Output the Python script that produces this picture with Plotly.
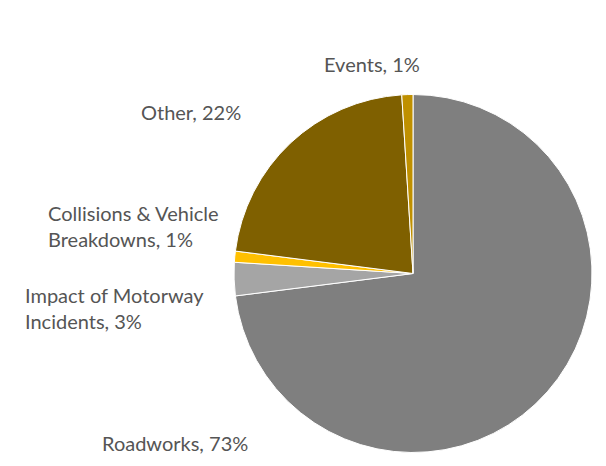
import plotly.graph_objects as go

W, H = 606, 466
OFF = 8  # page body margin offset

categories = ["Roadworks", "Impact of Motorway Incidents", "Collisions & Vehicle Breakdowns", "Other", "Events"]
values = [73, 3, 1, 22, 1]
colors = ["#7F7F7F", "#A5A5A5", "#FFC000", "#7F6000", "#BF9000"]
label_texts = ["Roadworks, 73%", "Impact of Motorway<br>Incidents, 3%", "Collisions & Vehicle<br>Breakdowns, 1%", "Other, 22%", "Events, 1%"]
# label anchor positions in page pixels (left edge, vertical middle)
label_px = [(100, 443), (23, 308), (46, 226), (139, 112), (322, 64)]

cx, cy, r = 413 - OFF, 273.5 - OFF, 179

fig = go.Figure(go.Pie(
    labels=categories,
    values=values,
    sort=False,
    direction="clockwise",
    rotation=0,
    marker=dict(colors=colors, line=dict(color="white", width=1)),
    textinfo="none",
    hoverinfo="label+percent",
    domain=dict(x=[(cx - r) / W, (cx + r) / W], y=[1 - (cy + r) / H, 1 - (cy - r) / H]),
    showlegend=False,
))

for txt, (px, py) in zip(label_texts, label_px):
    fig.add_annotation(
        x=(px - OFF) / W, y=1 - (py - OFF) / H, xref="paper", yref="paper",
        text=txt, showarrow=False, xanchor="left", yanchor="middle", align="left",
        font=dict(family="Lato", size=20, color="#555555"),
    )

fig.update_layout(
    width=W, height=H,
    margin=dict(l=0, r=0, t=0, b=0),
    paper_bgcolor="white",
    plot_bgcolor="white",
)

fig.write_html("out.html")
